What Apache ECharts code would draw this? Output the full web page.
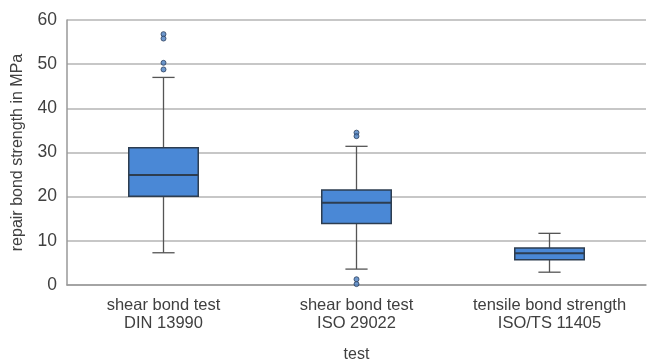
<!DOCTYPE html>
<html>
<head>
<meta charset="utf-8">
<script src="https://cdn.jsdelivr.net/npm/echarts@6/dist/echarts.min.js"></script>
<style>
  html, body { margin: 0; padding: 0; background: #fff; }
  #chart { width: 647px; height: 360px; }
</style>
</head>
<body>
<div id="chart"></div>
<script>
// categories
const categories = ['shear bond test\nDIN 13990', 'shear bond test\nISO 29022', 'tensile bond strength\nISO/TS 11405'];
// [min, Q1, median, Q3, max] per category
const boxStats = [
  [7.3, 20.1, 24.9, 31.1, 47.0],
  [3.6, 13.9, 18.6, 21.5, 31.4],
  [2.9, 5.7, 7.2, 8.4, 11.7]
];
// outliers: [category index, value]
const outliers = [
  [0, 56.8], [0, 55.8], [0, 50.3], [0, 48.8],
  [1, 34.5], [1, 33.7], [1, 1.3], [1, 0.2]
];
const yTicks = [0, 10, 20, 30, 40, 50, 60];

const chart = echarts.init(document.getElementById('chart'));

// draw one box with narrow whisker caps
function renderBox (params, api) {
  const i = api.value(0);
  const lo = api.coord([i, api.value(1)]);
  const q1 = api.coord([i, api.value(2)]);
  const md = api.coord([i, api.value(3)]);
  const q3 = api.coord([i, api.value(4)]);
  const hi = api.coord([i, api.value(5)]);
  const band = api.size([1, 0])[0];
  const bw = band * 0.36;
  const cw = band * 0.115;
  const x = lo[0];
  const wStyle = { stroke: '#555', lineWidth: 1.3 };
  return {
    type: 'group',
    children: [
      { type: 'line', shape: { x1: x, y1: hi[1], x2: x, y2: q3[1] }, style: wStyle },
      { type: 'line', shape: { x1: x, y1: q1[1], x2: x, y2: lo[1] }, style: wStyle },
      { type: 'line', shape: { x1: x - cw / 2, y1: hi[1], x2: x + cw / 2, y2: hi[1] }, style: wStyle },
      { type: 'line', shape: { x1: x - cw / 2, y1: lo[1], x2: x + cw / 2, y2: lo[1] }, style: wStyle },
      { type: 'rect', shape: { x: x - bw / 2, y: q3[1], width: bw, height: q1[1] - q3[1] },
        style: { fill: '#4a88d6', stroke: '#2d3d50', lineWidth: 1.5 } },
      { type: 'line', shape: { x1: x - bw / 2, y1: md[1], x2: x + bw / 2, y2: md[1] }, style: { stroke: '#2d3d50', lineWidth: 2 } }
    ]
  };
}

chart.setOption({
  animation: false,
  grid: { left: 67, right: 1, top: 20, bottom: 75, outerBoundsMode: 'none', containLabel: false },
  xAxis: {
    type: 'category',
    data: categories,
    name: 'test',
    nameLocation: 'middle',
    nameGap: 62,
    nameTextStyle: { fontFamily: 'Liberation Sans', fontSize: 16, color: '#404040' },
    axisLine: { lineStyle: { color: '#999', width: 1.5 } },
    axisTick: { show: false },
    axisLabel: { interval: 0, hideOverlap: false, fontFamily: 'Liberation Sans', fontSize: 16.5, color: '#404040', margin: 11, lineHeight: 18 }
  },
  yAxis: {
    type: 'value',
    min: 0,
    max: 60,
    interval: 10,
    name: 'repair bond strength in MPa',
    nameLocation: 'middle',
    nameGap: 41,
    nameTextStyle: { fontFamily: 'Liberation Sans', fontSize: 16, color: '#404040' },
    axisLine: { show: true, lineStyle: { color: '#999', width: 1.5 } },
    axisTick: { show: false },
    axisLabel: { fontFamily: 'Liberation Sans', fontSize: 17.5, color: '#404040', margin: 10,
      formatter: v => yTicks.includes(v) ? String(v) : '' },
    splitLine: { lineStyle: { color: '#b4b4b4', width: 1.5 } }
  },
  series: [
    {
      type: 'custom',
      renderItem: renderBox,
      encode: { x: 0, y: [1, 2, 3, 4, 5] },
      data: boxStats.map((s, i) => [i].concat(s))
    },
    {
      type: 'scatter',
      symbol: 'circle',
      symbolSize: 5,
      itemStyle: { color: '#4a7ec0', borderColor: '#2a3f5c', borderWidth: 1 },
      data: outliers
    }
  ]
});
</script>
</body>
</html>
